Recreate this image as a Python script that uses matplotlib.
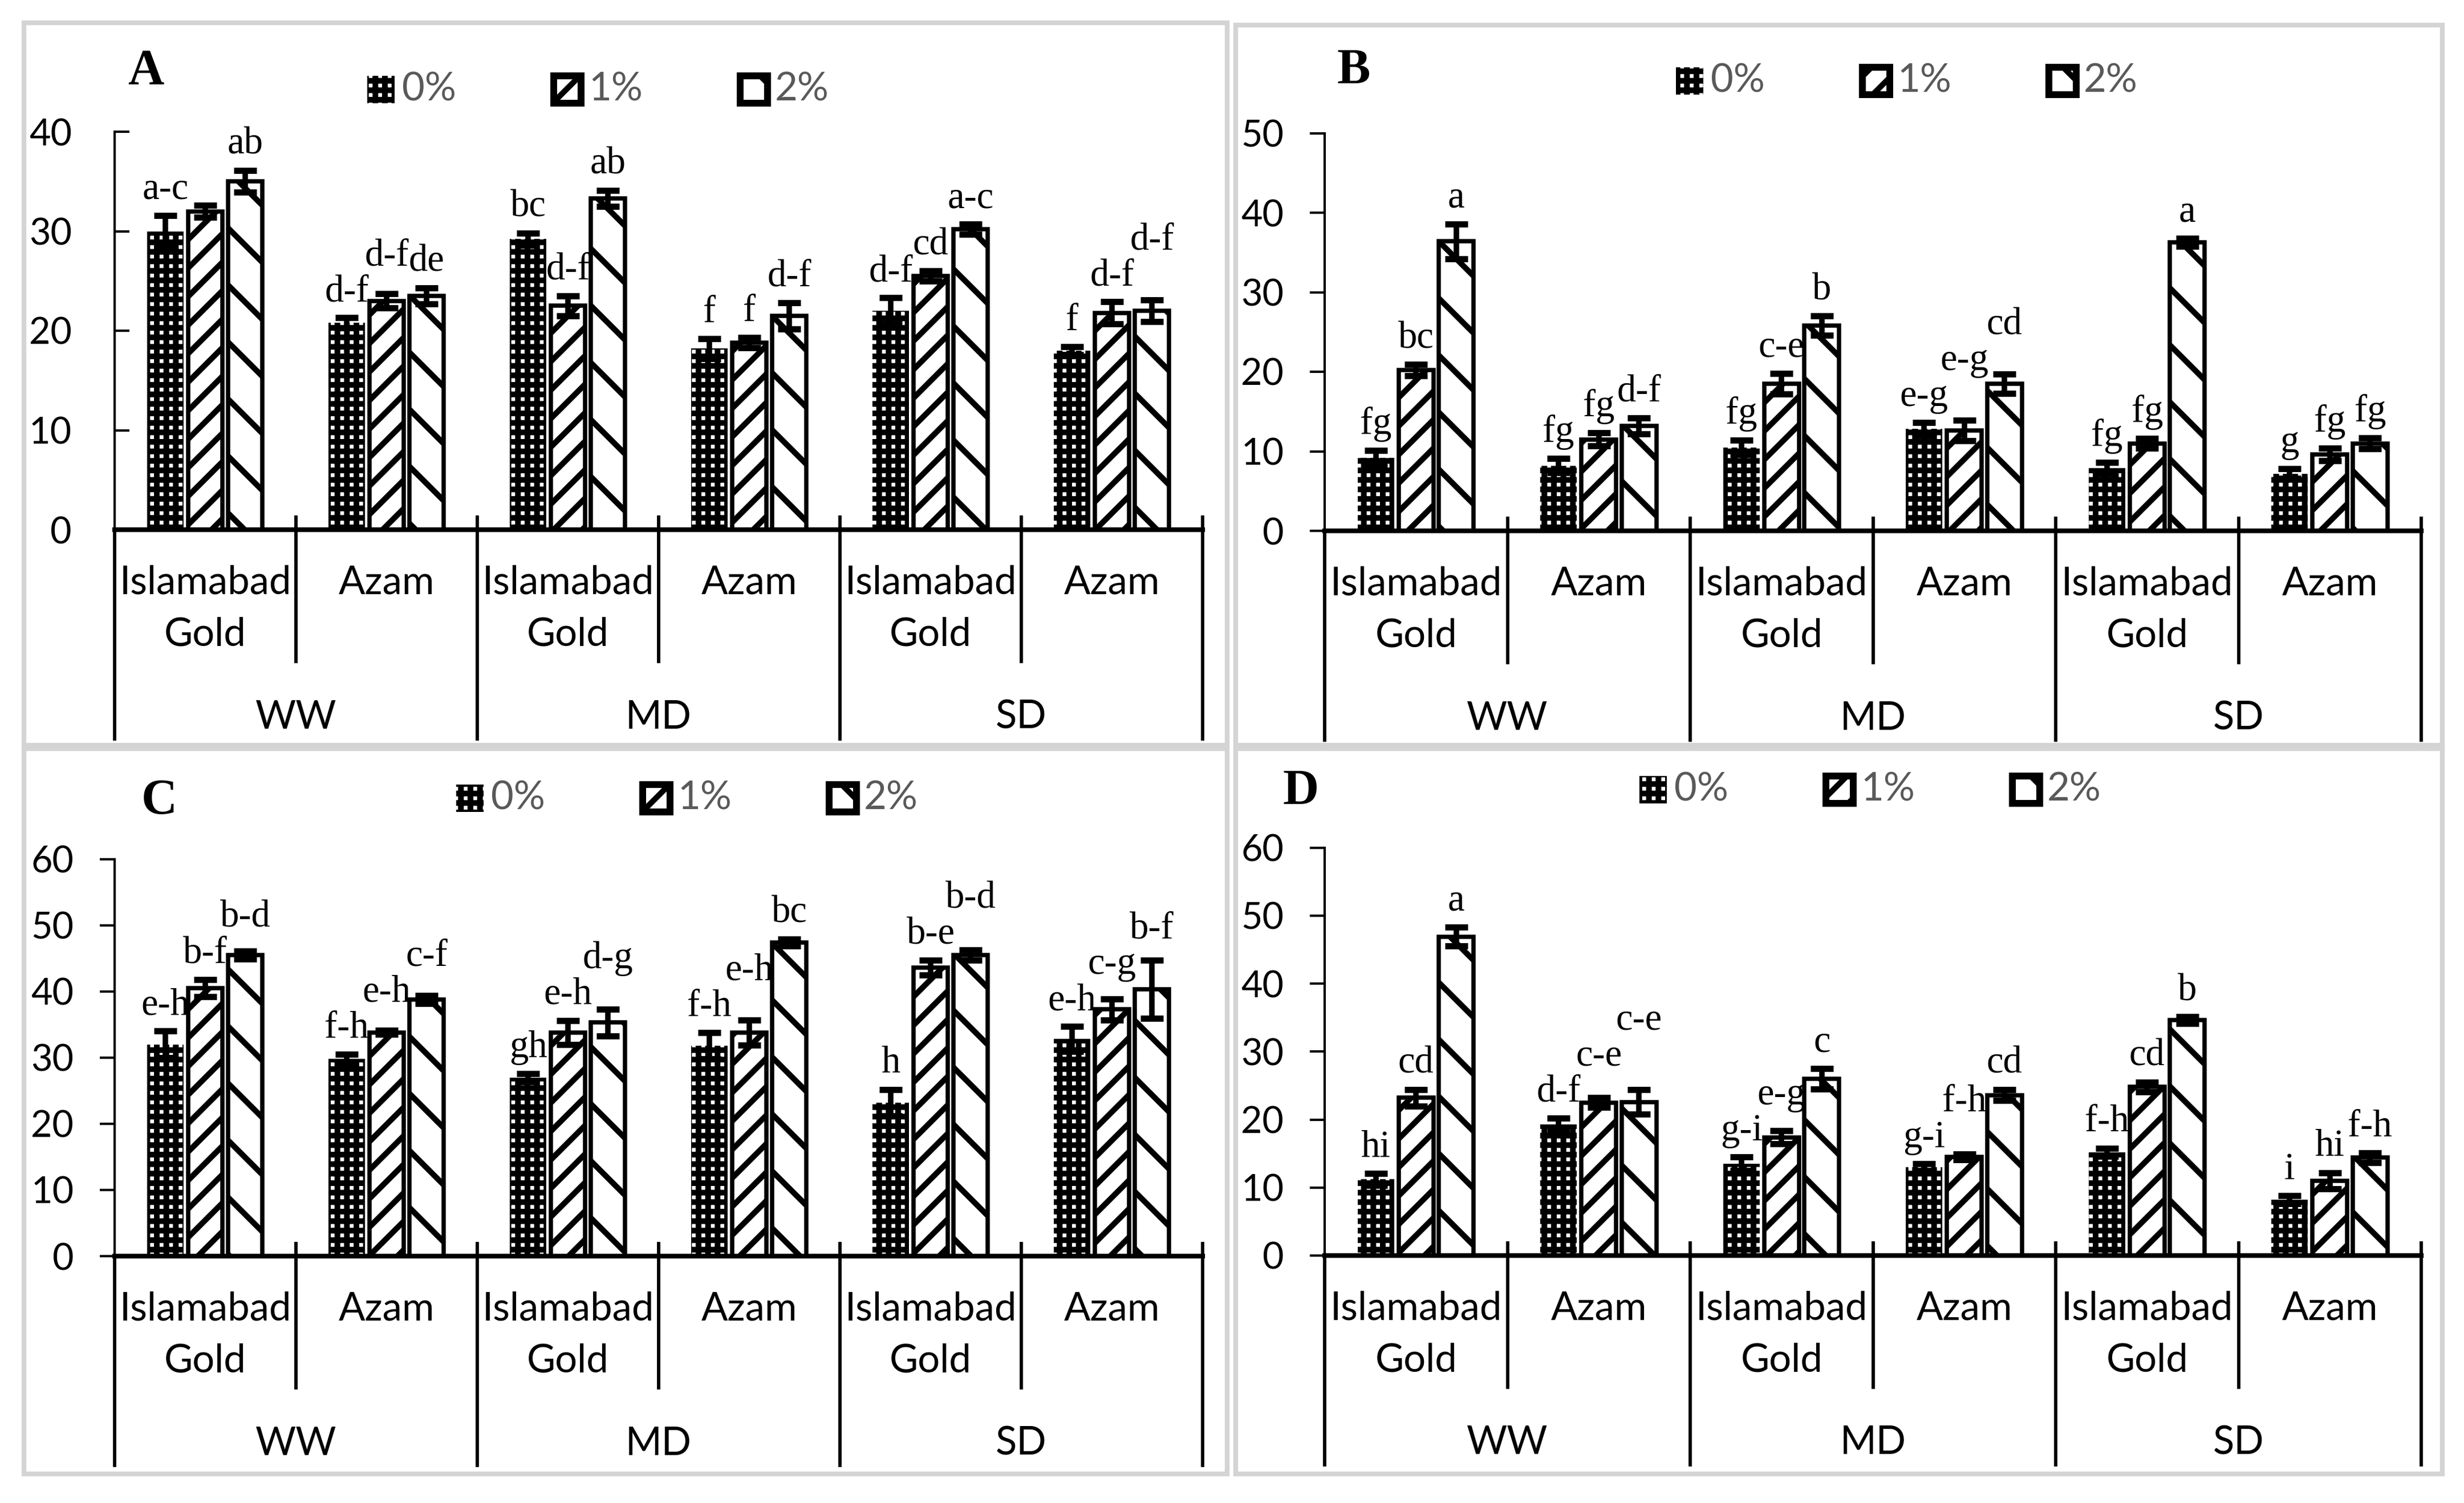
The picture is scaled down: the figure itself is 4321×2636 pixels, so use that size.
import matplotlib
matplotlib.use("Agg")
import matplotlib.pyplot as plt
from matplotlib.patches import Rectangle
from matplotlib.transforms import blended_transform_factory

# ---- data ----
stress = ["WW", "MD", "SD"]
cultivars = ["Islamabad Gold", "Azam"]
levels = ["0%", "1%", "2%"]

# rows: 0%, 1%, 2% ; columns: WW-IG, WW-Az, MD-IG, MD-Az, SD-IG, SD-Az
a_mean = [[30.0, 20.8, 29.2, 18.2, 22.0, 18.0],
          [32.0, 23.0, 22.5, 18.8, 25.5, 21.8],
          [35.0, 23.5, 33.3, 21.5, 30.2, 22.0]]
a_err = [[1.6, 0.5, 0.6, 1.0, 1.3, 0.4],
         [0.6, 0.7, 1.0, 0.5, 0.5, 1.1],
         [1.1, 0.8, 0.8, 1.3, 0.5, 1.1]]
a_lett = [["a-c", "d-f", "bc", "f", "d-f", "f"],
          ["", "d-f", "d-f", "f", "cd", "d-f"],
          ["ab", "de", "ab", "d-f", "a-c", "d-f"]]

b_mean = [[9.2, 8.2, 10.5, 12.8, 7.9, 7.2],
          [20.2, 11.5, 18.5, 12.6, 11.0, 9.6],
          [36.4, 13.2, 25.8, 18.5, 36.3, 11.0]]
b_err = [[0.9, 0.9, 0.9, 0.8, 0.7, 0.6],
         [0.7, 0.8, 1.3, 1.3, 0.6, 0.8],
         [2.2, 1.0, 1.2, 1.2, 0.5, 0.7]]
b_lett = [["fg", "fg", "fg", "e-g", "fg", "g"],
          ["bc", "fg", "c-e", "e-g", "fg", "fg"],
          ["a", "d-f", "b", "cd", "a", "fg"]]

c_mean = [[32.0, 29.8, 27.0, 31.8, 23.2, 32.8],
          [40.5, 33.8, 33.8, 33.8, 43.6, 37.3],
          [45.5, 38.8, 35.3, 47.4, 45.5, 40.3]]
c_err = [[2.0, 0.7, 0.6, 2.0, 2.0, 1.9],
         [1.3, 0.3, 1.8, 1.9, 1.1, 1.6],
         [0.6, 0.6, 2.0, 0.5, 0.8, 4.4]]
c_lett = [["e-h", "f-h", "gh", "f-h", "h", "e-h"],
          ["b-f", "e-h", "e-h", "e-h", "b-e", "c-g"],
          ["b-d", "c-f", "d-g", "bc", "b-d", "b-f"]]

d_mean = [[11.2, 19.3, 13.5, 13.0, 15.2, 8.2],
          [23.2, 22.5, 17.4, 14.5, 24.8, 11.0],
          [46.9, 22.6, 26.0, 23.6, 34.6, 14.4]]
d_err = [[0.9, 0.9, 1.0, 0.5, 0.6, 0.6],
         [1.2, 0.7, 1.0, 0.4, 0.7, 1.2],
         [1.4, 1.8, 1.5, 0.8, 0.5, 0.7]]
d_lett = [["hi", "d-f", "g-i", "g-i", "f-h", "i"],
          ["cd", "c-e", "e-g", "f-h", "cd", "hi"],
          ["a", "c-e", "c", "cd", "b", "f-h"]]

# ---- layout (pixels of the 4321x2636 picture) ----
W, H, DPI = 4321, 2636, 300
SANS = ["Lato", "DejaVu Sans"]
SERIF = ["Liberation Serif", "DejaVu Serif"]

panels = [
    dict(name="A", mean=a_mean, err=a_err, lett=a_lett, ymax=40,
         box=(201, 2109, 929, 231), tdir="in", legend=(644, 157),
         letter=(256, 126), frame=(42, 40, 2152, 1307)),
    dict(name="B", mean=b_mean, err=b_err, lett=b_lett, ymax=50,
         box=(2323, 4246, 931, 233.5), tdir="out", legend=(2939, 142),
         letter=(2374, 125), frame=(2167, 44, 4283, 1307)),
    dict(name="C", mean=c_mean, err=c_err, lett=c_lett, ymax=60,
         box=(201, 2109, 2203, 1506.7), tdir="out", legend=(800, 1400),
         letter=(279, 1405), frame=(42, 1313, 2152, 2585)),
    dict(name="D", mean=d_mean, err=d_err, lett=d_lett, ymax=60,
         box=(2323, 4246, 2202, 1486.6), tdir="out", legend=(2875, 1385),
         letter=(2281, 1388), frame=(2167, 1313, 4283, 2585)),
]

plt.rcParams["hatch.linewidth"] = 2.4
hatches = ["+++", "//", "\\"]
edge_lw = [0.0, 1.8, 1.8]


def fx(px):
    return px / W


def fy(py):
    return 1 - py / H


fig = plt.figure(figsize=(W / DPI, H / DPI), dpi=DPI)
fig.patch.set_facecolor("white")
label_groups = []

for p in panels:
    l, t, r, b = p["frame"]
    fig.add_artist(Rectangle((fx(l), fy(b)), fx(r) - fx(l), fy(t) - fy(b),
                             transform=fig.transFigure, fill=False,
                             edgecolor="#d4d4d4", lw=2.0))

    x0, x1, y0, ytop = p["box"]
    ax = fig.add_axes([fx(x0), fy(y0), fx(x1) - fx(x0), fy(ytop) - fy(y0)])
    ax.set_xlim(-0.5, 5.5)
    ax.set_ylim(0, p["ymax"])
    ax.set_yticks(range(0, p["ymax"] + 1, 10))
    ax.set_xticks([])
    for s in ["top", "right"]:
        ax.spines[s].set_visible(False)
    ax.spines["left"].set_linewidth(1.0)
    ax.spines["bottom"].set_linewidth(2.0)
    ax.patch.set_alpha(0)
    pad = 18 if p["tdir"] == "in" else 11
    ax.tick_params(axis="y", direction=p["tdir"], length=6.2, width=1.0,
                   pad=pad, labelsize=15.5)
    for lab in ax.get_yticklabels():
        lab.set_family(SANS)

    xs = list(range(6))
    groups = [[] for _ in xs]
    for k in range(3):
        off = (k - 1) * 0.22
        xk = [x + off for x in xs]
        ax.bar(xk, p["mean"][k], width=0.19 if k else 0.2,
               facecolor="white", edgecolor="black",
               linewidth=edge_lw[k], hatch=hatches[k], zorder=2)
        ax.errorbar(xk, p["mean"][k], yerr=p["err"][k], fmt="none",
                    ecolor="black", elinewidth=2.3, capsize=4.8,
                    capthick=2.6, zorder=3)
        for g, (x, m, e, s) in enumerate(zip(xk, p["mean"][k], p["err"][k],
                                             p["lett"][k])):
            if s:
                ann = ax.annotate(s, (x, m + e), xytext=(0, 7),
                                  textcoords="offset points", ha="center",
                                  va="baseline", fontsize=16, family=SERIF)
                groups[g].append(ann)
    label_groups.extend(groups)

    # category axis below
    tr = blended_transform_factory(ax.transData, fig.transFigure)
    for i in range(7):
        xb = i - 0.5
        depth = 370 if i % 2 == 0 else 234
        top = y0 - 25 if i > 0 else y0
        ax.plot([xb, xb], [fy(top), fy(y0 + depth)], transform=tr,
                color="black", lw=1.4, clip_on=False, solid_capstyle="butt")
    for i in range(6):
        if i % 2 == 0:
            ax.text(i, fy(y0 + 93), "Islamabad", transform=tr, ha="center",
                    va="center", fontsize=16.5, family=SANS)
            ax.text(i, fy(y0 + 184), "Gold", transform=tr, ha="center",
                    va="center", fontsize=16.5, family=SANS)
        else:
            ax.text(i, fy(y0 + 93), cultivars[1], transform=tr, ha="center",
                    va="center", fontsize=16.5, family=SANS)
    for j, s in enumerate(stress):
        ax.text(2 * j + 0.5, fy(y0 + 329), s, transform=tr, ha="center",
                va="center", fontsize=16.5, family=SANS)

    # legend
    lx, ly = p["legend"]
    for k, name in enumerate(levels):
        sx = lx + k * 327
        sw = Rectangle((fx(sx), fy(ly + 24)), fx(48), 48 / H,
                       transform=fig.transFigure, facecolor="white",
                       edgecolor="black", lw=edge_lw[k] * 1.6,
                       hatch=hatches[k])
        fig.add_artist(sw)
        fig.text(fx(sx + 61), fy(ly), name, ha="left", va="center",
                 fontsize=16.5, color="#595959", family=SANS)

    lx, ly = p["letter"]
    fig.text(fx(lx), fy(ly), p["name"], ha="center", va="center",
             fontsize=21, fontweight="bold", family=SERIF)

# lift letter labels that would collide with a neighbour in the same group
renderer = fig.canvas.get_renderer()
for grp in label_groups:
    placed = []
    for ann in grp:
        for _ in range(4):
            bb = ann.get_window_extent(renderer)
            hit = [pb for pb in placed
                   if bb.x0 < pb.x1 - 2 and bb.x1 > pb.x0 + 2
                   and bb.y0 < pb.y1 and bb.y1 > pb.y0]
            if not hit:
                break
            lift = max(pb.y1 for pb in hit) - bb.y0 + 2
            dx, dy = ann.xyann
            ann.xyann = (dx, dy + lift * 72 / DPI)
        placed.append(ann.get_window_extent(renderer))

fig.savefig("out.png", dpi=DPI, facecolor="white")
